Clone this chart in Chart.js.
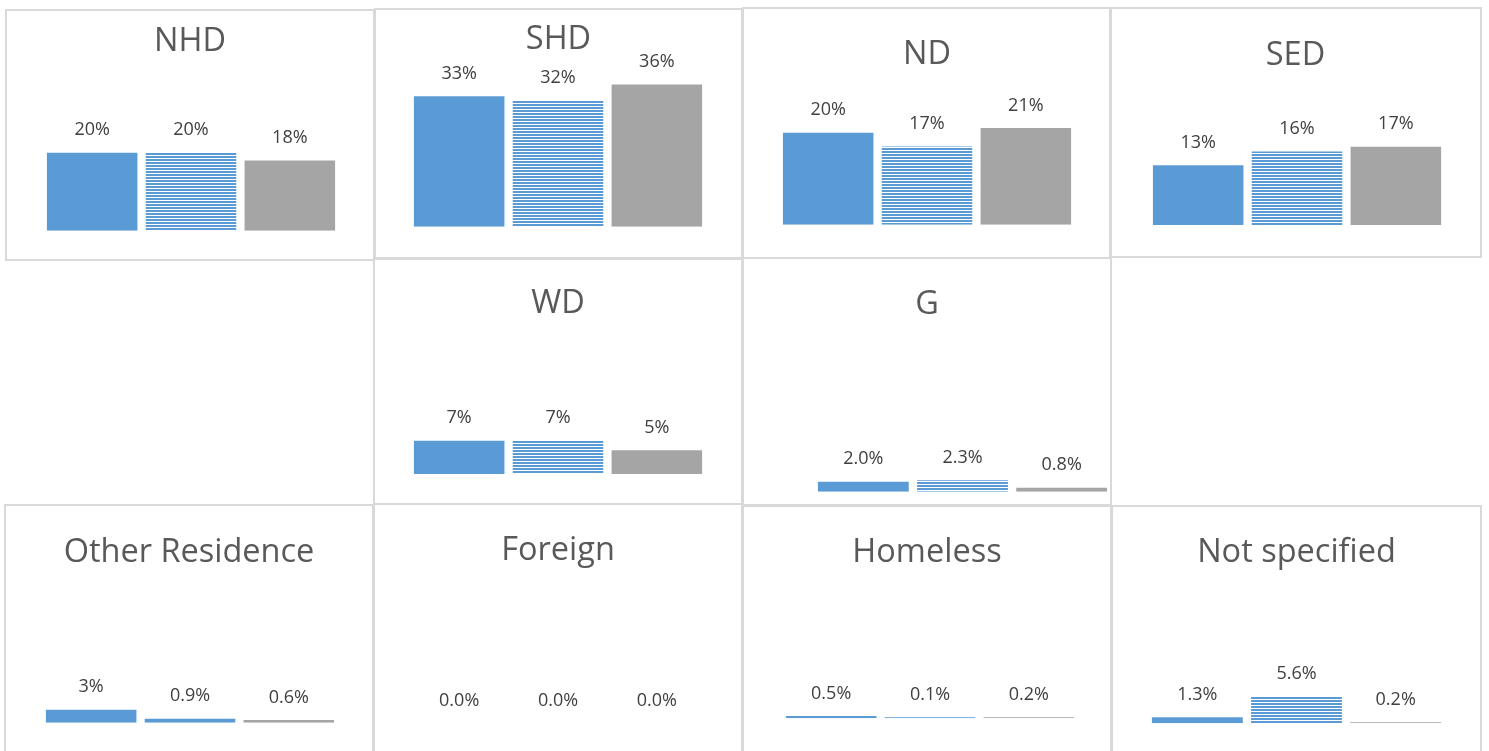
<!DOCTYPE html>
<html>
<head>
<meta charset="utf-8">
<title>Small multiples</title>
<script src="https://cdn.jsdelivr.net/npm/chart.js@4.4.1/dist/chart.umd.min.js"></script>
<style>
    html, body { margin: 0; padding: 0; width: 1489px; height: 751px; overflow: hidden; background: #fff; }
    .panel { position: absolute; box-sizing: border-box; border: 2px solid #D9D9D9; }
    .panel .wrap { position: absolute; left: -2px; top: -2px; }
</style>
</head>
<body>
<script>
// ===== DATA =====
const PANELS   = ['NHD', 'SHD', 'ND', 'SED', 'WD', 'G', 'Other Residence', 'Foreign', 'Homeless', 'Not specified'];
const SERIES_1 = [20, 33, 20, 13, 7, 2.0, 3,   0.0, 0.5, 1.3];
const SERIES_2 = [20, 32, 17, 16, 7, 2.3, 0.9, 0.0, 0.1, 5.6];
const SERIES_3 = [18, 36, 21, 17, 5, 0.8, 0.6, 0.0, 0.2, 0.2];
// decimals shown in each data label
const DECIMALS_1 = [0, 0, 0, 0, 0, 1, 0, 1, 1, 1];
const DECIMALS_2 = [0, 0, 0, 0, 0, 1, 1, 1, 1, 1];
const DECIMALS_3 = [0, 0, 0, 0, 0, 1, 1, 1, 1, 1];

// ===== LAYOUT (page px) =====
const BOX = [[5, 9, 370, 252], [374, 8, 369, 251], [742, 7, 370, 252], [1109, 7, 373, 251],
             [373, 258, 370, 247], [742, 257, 370, 249],
             [4, 504, 370, 260], [373, 503, 370, 260], [742, 505, 370, 260], [1111, 505, 371, 260]];
const BAR_SPAN = [[42.75, 339.25], [409.75, 706.25], [778.75, 1075.25], [1148.75, 1445.25],
                  [409.75, 706.25], [813.75, 1111.25],
                  [41.75, 338.25], [409.75, 706.25], [781.75, 1078.25], [1147.75, 1445.25]];
const BASELINE = [230.7, 226.7, 224.7, 225, 474, 491.7, 722.7, 723, 718.3, 723.3];
const PX_PER_PCT = [3.9, 3.95, 4.6, 4.6, 4.75, 5.0, 4.3, 4.5, 4.6, 4.7];
const TITLE_Y = [50.7, 49.3, 64, 65, 313.3, 313.5, 561.7, 560, 561.7, 561.7];

const BLUE = '#5B9BD5';
const GREY = '#A5A5A5';

// horizontal stripes for the middle series
function stripePattern() {
    const c = document.createElement('canvas');
    c.width = 8; c.height = 3;
    const g = c.getContext('2d');
    g.fillStyle = BLUE;
    g.fillRect(0, 0, 8, 2);
    return g.createPattern(c, 'repeat');
}
const STRIPES = stripePattern();

// data labels + panel title
const panelText = {
    id: 'panelText',
    afterDatasetsDraw(chart, args, opts) {
        const ctx = chart.ctx;
        const meta = chart.getDatasetMeta(0);
        ctx.save();
        ctx.textAlign = 'center';
        ctx.textBaseline = 'alphabetic';
        ctx.fillStyle = '#404040';
        ctx.font = '18px "Open Sans"';
        meta.data.forEach((bar, i) => {
            ctx.fillText(opts.labels[i], bar.x, bar.y - 17.5);
        });
        ctx.fillStyle = '#595959';
        ctx.font = '32.5px "Open Sans"';
        ctx.fillText(opts.title, chart.width / 2, opts.titleY);
        ctx.restore();
    }
};

PANELS.forEach((name, p) => {
    const [bx, by, bw, bh] = BOX[p];
    const panel = document.createElement('div');
    panel.className = 'panel';
    Object.assign(panel.style, { left: bx + 'px', top: by + 'px', width: bw + 'px', height: bh + 'px' });
    const wrap = document.createElement('div');
    wrap.className = 'wrap';
    Object.assign(wrap.style, { width: bw + 'px', height: bh + 'px' });
    const canvas = document.createElement('canvas');
    wrap.appendChild(canvas);
    panel.appendChild(wrap);
    document.body.appendChild(panel);

    const values = [SERIES_1[p], SERIES_2[p], SERIES_3[p]];
    const decimals = [DECIMALS_1[p], DECIMALS_2[p], DECIMALS_3[p]];
    const labels = values.map((v, i) => v.toFixed(decimals[i]) + '%');

    const padTop = 10;
    const base = BASELINE[p] - by;
    const yMax = (base - padTop) / PX_PER_PCT[p];

    new Chart(canvas, {
        type: 'bar',
        data: {
            labels: ['1', '2', '3'],
            datasets: [{
                data: values,
                backgroundColor: (c) => {
                    if (c.dataIndex === 0) return BLUE;
                    if (c.dataIndex === 2) return GREY;
                    return values[1] * PX_PER_PCT[p] < 4 ? BLUE : STRIPES;
                },
                borderWidth: 0,
                barPercentage: 0.916,
                categoryPercentage: 1,
                minBarLength: values.every(v => v > 0) ? 1 : 0
            }]
        },
        options: {
            responsive: true,
            maintainAspectRatio: false,
            animation: false,
            events: [],
            layout: {
                padding: {
                    left: BAR_SPAN[p][0] - bx,
                    right: bx + bw - BAR_SPAN[p][1],
                    top: padTop,
                    bottom: bh - base
                }
            },
            plugins: {
                legend: { display: false },
                tooltip: { enabled: false },
                title: { display: false },
                panelText: { labels, title: name, titleY: TITLE_Y[p] - by }
            },
            scales: {
                x: { display: false, offset: true },
                y: { display: false, min: 0, max: yMax }
            }
        },
        plugins: [panelText]
    });
});
</script>
</body>
</html>
